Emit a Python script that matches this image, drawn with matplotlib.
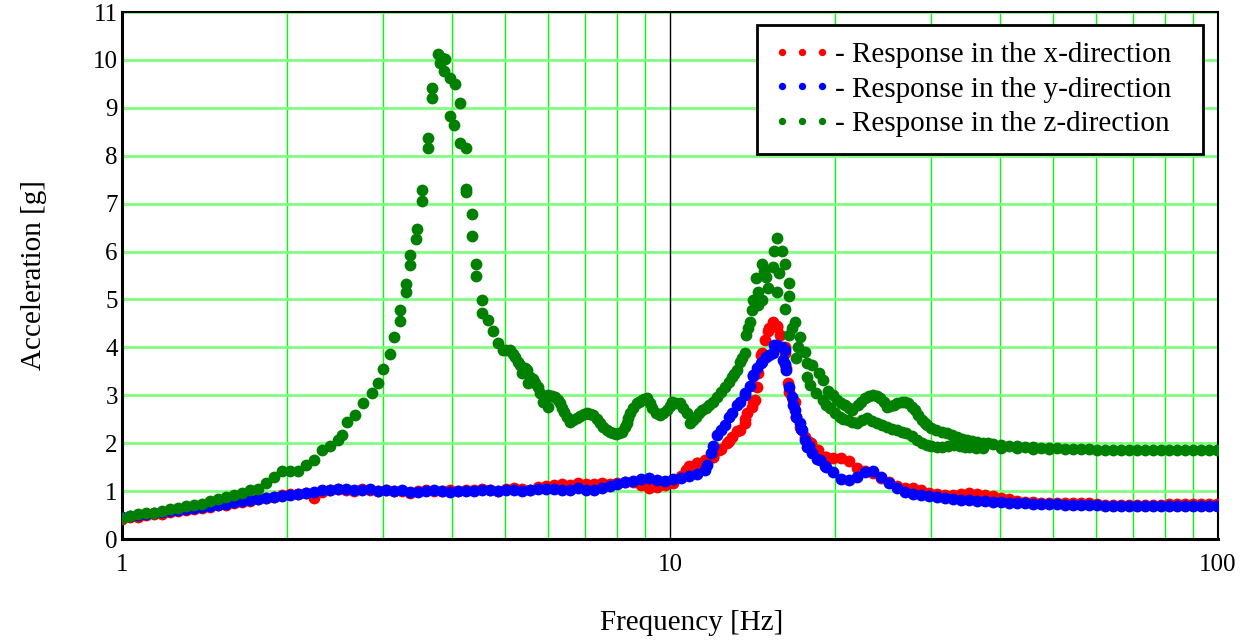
import matplotlib
matplotlib.use("Agg")
import matplotlib.pyplot as plt
from matplotlib.ticker import FixedLocator, NullFormatter

plt.rcParams['font.family'] = ['Liberation Serif', 'DejaVu Serif']

# frequency points of the sweep (Hz), shared by the x and y responses
grid_hz = [1.000, 1.034, 1.070, 1.106, 1.144, 1.183, 1.223, 1.265, 1.308, 1.353,
           1.399, 1.447, 1.497, 1.548, 1.601, 1.655, 1.712, 1.770, 1.831, 1.893,
           1.958, 2.025, 2.094, 2.166, 2.240, 2.316, 2.395, 2.477, 2.562, 2.649,
           2.740, 2.833, 2.930, 3.030, 3.133, 3.240, 3.351, 3.465, 3.584, 3.706,
           3.832, 3.963, 4.099, 4.239, 4.383, 4.533, 4.688, 4.848, 5.013, 5.184,
           5.361, 5.544, 5.734, 5.929, 6.132, 6.341, 6.558, 6.781, 7.013, 7.252,
           7.500, 7.756, 8.021, 8.294, 8.578, 8.870, 9.173, 9.486, 9.810, 10.14,
           10.49, 10.85, 11.22, 11.60, 12.00, 12.41, 12.83, 13.27, 13.72, 14.19,
           14.68, 15.18, 15.70, 16.23, 16.79, 17.36, 17.95, 18.57, 19.20, 19.86,
           20.53, 21.23, 21.96, 22.71, 23.48, 24.29, 25.12, 25.97, 26.86, 27.78,
           28.72, 29.70, 30.72, 31.77, 32.85, 33.97, 35.13, 36.33, 37.57, 38.85,
           40.18, 41.55, 42.97, 44.43, 45.95, 47.52, 49.14, 50.82, 52.55, 54.35,
           56.20, 58.12, 60.10, 62.15, 64.28, 66.47, 68.74, 71.09, 73.51, 76.02,
           78.62, 81.30, 84.08, 86.95, 89.92, 92.99, 96.16, 99.44]

# response in the x-direction [g]
x_acc = [0.42, 0.45, 0.47, 0.50, 0.53, 0.52, 0.56, 0.58, 0.60, 0.62,
         0.64, 0.67, 0.70, 0.72, 0.75, 0.78, 0.80, 0.83, 0.85, 0.88,
         0.91, 0.93, 0.95, 0.97, 0.86, 0.98, 1.02, 1.05, 1.03, 1.01,
         1.04, 1.02, 1.00, 1.02, 1.00, 1.01, 0.97, 1.00, 1.02, 1.00,
         1.01, 1.02, 1.00, 1.03, 1.02, 1.05, 1.03, 1.01, 1.04, 1.06,
         1.04, 1.03, 1.08, 1.10, 1.12, 1.14, 1.13, 1.16, 1.15, 1.14,
         1.16, 1.14, 1.17, 1.20, 1.18, 1.12, 1.07, 1.09, 1.13, 1.17,
         1.32, 1.52, 1.58, 1.64, 1.72, 1.88, 2.05, 2.25, 2.50, 2.85,
         3.85, 4.40, 4.45, 4.00, 2.90, 2.30, 2.02, 1.85, 1.72, 1.70,
         1.69, 1.62, 1.48, 1.42, 1.38, 1.27, 1.18, 1.10, 1.07, 1.06,
         1.02, 0.97, 0.94, 0.92, 0.92, 0.94, 0.96, 0.93, 0.92, 0.90,
         0.86, 0.83, 0.80, 0.78, 0.77, 0.76, 0.76, 0.76, 0.76, 0.76,
         0.76, 0.75, 0.74, 0.72, 0.71, 0.71, 0.71, 0.71, 0.71, 0.71,
         0.71, 0.73, 0.74, 0.74, 0.74, 0.74, 0.74, 0.74]
x_peak_hz = [10.7, 11.2, 12.0, 12.3, 12.7, 13.0, 13.4, 13.7, 13.8, 14.1, 14.3, 14.4, 14.5,
             14.7, 14.9, 15.1, 15.4, 15.7, 15.9, 16.2, 16.3, 16.4, 16.5, 16.9, 17.0, 17.3,
             17.6, 18.1, 18.6, 19.3]
x_peak_acc = [1.44, 1.58, 1.71, 1.85, 2.00, 2.13, 2.27, 2.42, 2.63, 2.75, 2.90, 3.17, 3.46,
              3.88, 4.15, 4.35, 4.52, 4.42, 4.25, 3.88, 3.58, 3.25, 3.06, 2.85, 2.54, 2.33,
              2.13, 2.00, 1.85, 1.71]

# response in the y-direction [g]
y_acc = [0.45, 0.48, 0.50, 0.52, 0.54, 0.56, 0.58, 0.60, 0.62, 0.65,
         0.67, 0.69, 0.72, 0.74, 0.77, 0.79, 0.82, 0.84, 0.86, 0.88,
         0.90, 0.92, 0.94, 0.97, 0.99, 1.02, 1.03, 1.05, 1.04, 1.02,
         1.03, 1.05, 1.01, 1.02, 1.01, 1.02, 0.99, 0.98, 1.01, 1.03,
         1.00, 0.99, 1.00, 1.01, 1.01, 1.03, 1.02, 1.00, 1.02, 1.03,
         1.01, 1.02, 1.04, 1.05, 1.04, 1.02, 1.03, 1.06, 1.02, 1.03,
         1.07, 1.10, 1.14, 1.18, 1.22, 1.25, 1.27, 1.23, 1.21, 1.25,
         1.28, 1.31, 1.36, 1.45, 1.95, 2.28, 2.55, 2.80, 3.05, 3.40,
         3.68, 3.85, 4.05, 3.65, 2.80, 2.30, 1.95, 1.68, 1.52, 1.40,
         1.25, 1.24, 1.30, 1.40, 1.42, 1.30, 1.17, 1.06, 0.99, 0.95,
         0.92, 0.90, 0.88, 0.86, 0.84, 0.82, 0.81, 0.80, 0.79, 0.78,
         0.77, 0.76, 0.75, 0.75, 0.74, 0.74, 0.73, 0.73, 0.72, 0.72,
         0.71, 0.70, 0.70, 0.69, 0.69, 0.69, 0.69, 0.69, 0.69, 0.69,
         0.69, 0.69, 0.69, 0.69, 0.69, 0.69, 0.69, 0.69]
y_peak_hz = [11.7, 11.9, 12.2, 12.6, 13.0, 13.4, 13.7, 14.0, 14.2, 14.4, 14.7, 15.0, 15.4,
             15.5, 16.0, 16.2, 16.1, 16.3, 16.5, 16.7, 16.9, 17.0, 17.3, 17.4, 17.6, 17.8,
             18.2, 18.8, 19.3]
y_peak_acc = [1.55, 1.80, 2.18, 2.38, 2.62, 2.85, 3.00, 3.20, 3.42, 3.56, 3.69, 3.79, 3.88,
              4.04, 4.00, 3.94, 3.73, 3.52, 3.17, 2.96, 2.69, 2.54, 2.42, 2.27, 2.06, 1.92,
              1.79, 1.65, 1.50]

# response in the z-direction [g]
z_hz = [1.000, 1.034, 1.070, 1.106, 1.144, 1.183, 1.223, 1.265, 1.308, 1.353,
        1.399, 1.447, 1.497, 1.548, 1.601, 1.655, 1.712, 1.770, 1.831, 1.893,
        1.958, 2.025, 2.094, 2.166, 2.240, 2.316, 2.395, 2.477,
        2.52, 2.57, 2.66, 2.75, 2.86, 2.93, 3.00, 3.08, 3.14, 3.21, 3.21, 3.30, 3.30,
        3.35, 3.35, 3.44, 3.45, 3.53, 3.53, 3.62, 3.62, 3.68, 3.68, 3.77, 3.80, 3.84,
        3.88, 3.87, 3.97, 4.05, 4.14, 3.97, 4.03, 4.14, 4.24, 4.24, 4.25, 4.35, 4.35,
        4.42, 4.42, 4.54, 4.54, 4.66, 4.75,
        4.85, 4.96, 5.03, 5.10, 5.16, 5.21, 5.27, 5.32, 5.37, 5.43, 5.48, 5.50, 5.56,
        5.62, 5.68, 5.74, 5.78, 5.86, 5.92, 5.99, 6.00, 6.08, 6.17, 6.24, 6.30, 6.36,
        6.41, 6.49, 6.57, 6.66, 6.76, 6.86, 6.96, 7.06, 7.15, 7.24, 7.35, 7.45, 7.56,
        7.67, 7.77, 7.87, 7.97, 8.08, 8.18, 8.27, 8.34, 8.40, 8.44, 8.57, 8.70, 8.79,
        8.88, 8.98, 9.09, 9.19, 9.29, 9.43, 9.58, 9.72, 9.87, 10.0, 10.1, 10.26, 10.42,
        10.57, 10.73, 10.86, 11.0, 11.17, 11.31, 11.46, 11.63, 11.8, 12.0, 12.2, 12.4,
        12.6, 12.8, 12.96, 13.1, 13.25, 13.4, 13.55, 13.7, 13.75, 13.9, 14.0, 14.1,
        14.17, 14.34, 14.45, 14.5, 14.7, 14.7, 14.85, 15.0, 15.1, 15.4, 15.5, 15.7,
        15.65, 15.8, 16.0, 16.2, 16.2, 16.5, 16.5, 16.9, 16.5, 16.7, 17.3, 17.0, 17.1,
        17.6, 17.8, 17.8,
        18.2, 18.7, 19.0, 19.4, 19.8, 20.2, 20.5, 20.85, 21.2, 21.5, 22.0, 22.3, 22.7,
        23.1, 23.5, 23.9, 24.2, 24.6, 24.9, 25.2, 25.6, 26.0, 26.5, 26.9, 27.2, 27.6,
        28.0, 28.4, 28.8, 29.2, 29.5, 30.0, 30.6, 31.3, 32.0, 32.7, 33.4, 34.1, 34.8,
        35.5, 36.3, 37.2, 38.1,
        18.0, 18.5, 19.0, 19.3, 19.6, 20.0, 20.4, 20.7, 21.1, 21.5, 21.9, 22.4, 22.9,
        23.4, 23.9, 24.4, 24.9, 25.4, 26.0, 26.5, 27.0, 27.6, 28.2, 28.8, 29.4, 30.0,
        30.7, 31.4, 32.2, 33.0, 33.8, 34.5, 35.2, 36.2, 37.2,
        38.85, 40.18, 41.55, 42.97, 44.43, 45.95, 47.52, 49.14, 50.82, 52.55, 54.35,
        56.20, 58.12, 60.10, 62.15, 64.28, 66.47, 68.74, 71.09, 73.51, 76.02, 78.62,
        81.30, 84.08, 86.95, 89.92, 92.99, 96.16, 99.44,
        40.18, 42.97, 45.95, 49.14]
z_acc = [0.44, 0.48, 0.52, 0.54, 0.55, 0.58, 0.62, 0.65, 0.68, 0.70,
         0.74, 0.79, 0.84, 0.88, 0.92, 0.97, 1.02, 1.05, 1.17, 1.30,
         1.42, 1.42, 1.42, 1.55, 1.65, 1.85, 1.95, 2.07,
         2.17, 2.45, 2.58, 2.83, 3.04, 3.25, 3.54, 3.87, 4.21, 4.56, 4.77, 5.15, 5.33,
         5.71, 5.92, 6.27, 6.48, 7.06, 7.29, 8.17, 8.38, 9.21, 9.42, 10.12, 9.94, 10.05,
         10.02, 9.77, 9.63, 9.50, 9.10, 8.83, 8.65, 8.27, 8.17, 7.31, 7.25, 6.79, 6.33,
         5.75, 5.48, 4.98, 4.71, 4.58, 4.35,
         4.10, 3.94, 3.95, 3.94, 3.86, 3.79, 3.70, 3.63, 3.46, 3.56, 3.52, 3.25, 3.38,
         3.35, 3.25, 3.17, 3.04, 2.85, 2.95, 3.00, 2.75, 2.98, 2.96, 2.90, 2.83, 2.74,
         2.65, 2.54, 2.44, 2.48, 2.52, 2.56, 2.61, 2.63, 2.61, 2.58, 2.50, 2.42, 2.34,
         2.27, 2.23, 2.21, 2.20, 2.21, 2.23, 2.33, 2.42, 2.52, 2.63, 2.73, 2.83, 2.87,
         2.90, 2.93, 2.94, 2.84, 2.73, 2.64, 2.58, 2.63, 2.69, 2.78, 2.85, 2.84, 2.83,
         2.73, 2.63, 2.42, 2.48, 2.54, 2.62, 2.69, 2.74, 2.79, 2.87, 2.96, 3.07,
         3.17, 3.28, 3.38, 3.45, 3.52, 3.69, 3.78, 3.88, 4.25, 4.40, 4.52, 4.77,
         4.98, 5.44, 4.88, 5.15, 4.98, 5.75, 5.60, 5.46, 5.23, 5.67, 6.02, 6.29,
         5.15, 5.55, 6.02, 5.75, 4.81, 5.35, 5.08, 4.52, 4.25, 4.40, 4.21, 3.77, 4.00,
         3.90, 3.67, 3.38,
         3.63, 3.46, 3.31, 3.10, 3.00, 2.90, 2.84, 2.79, 2.74, 2.69, 2.79, 2.87, 2.94,
         2.98, 3.00, 2.98, 2.94, 2.85, 2.75, 2.77, 2.79, 2.83, 2.85, 2.85, 2.83, 2.76,
         2.69, 2.58, 2.48, 2.42, 2.38, 2.32, 2.27, 2.24, 2.21, 2.17, 2.13, 2.09, 2.06,
         2.04, 2.02, 2.01, 2.00,
         3.21, 3.05, 2.90, 2.80, 2.73, 2.63, 2.54, 2.50, 2.48, 2.45, 2.42, 2.48, 2.52,
         2.47, 2.42, 2.37, 2.33, 2.30, 2.27, 2.24, 2.21, 2.14, 2.06, 2.01, 1.96, 1.94,
         1.92, 1.93, 1.95, 1.96, 1.95, 1.93, 1.92, 1.91, 1.90,
         1.98, 1.96, 1.95, 1.94, 1.93, 1.92, 1.91, 1.90, 1.89, 1.88, 1.88,
         1.87, 1.87, 1.86, 1.86, 1.86, 1.86, 1.85, 1.85, 1.85, 1.85, 1.85,
         1.85, 1.85, 1.85, 1.85, 1.85, 1.85, 1.85,
         1.90, 1.89, 1.88, 1.87]

x_ticks = [1, 10, 100]
y_ticks = list(range(12))

fig = plt.figure(figsize=(12.55, 6.42), dpi=100)
ax = fig.add_axes([0.0972, 0.1604, 0.8733, 0.8209])

ms = 8.5
ax.plot(grid_hz + x_peak_hz, x_acc + x_peak_acc, 'o', ms=ms, color='#ff0000', mec='none',
        label='- Response in the x-direction', zorder=3)
ax.plot(grid_hz + y_peak_hz, y_acc + y_peak_acc, 'o', ms=ms, color='#0000ff', mec='none',
        label='- Response in the y-direction', zorder=4)
ax.plot(z_hz, z_acc, 'o', ms=ms, color='#008000', mec='none',
        label='- Response in the z-direction', zorder=5)

ax.set_xscale('log')
ax.set_xlim(1, 100)
ax.set_ylim(0, 11)
ax.xaxis.set_major_locator(FixedLocator(x_ticks))
ax.set_xticklabels([str(t) for t in x_ticks])
ax.xaxis.set_minor_locator(FixedLocator([2, 3, 4, 5, 6, 7, 8, 9, 20, 30, 40, 50, 60, 70, 80, 90]))
ax.xaxis.set_minor_formatter(NullFormatter())
ax.set_yticks(y_ticks)
ax.tick_params(which='both', length=0, labelsize=18)
ax.tick_params(axis='x', pad=11)
ax.tick_params(axis='y', pad=3)

ax.grid(axis='y', which='major', color='#80ff80', lw=2)
ax.grid(axis='x', which='minor', color='#00ff00', lw=1)
ax.axvline(10, color='black', lw=1, zorder=1)
ax.set_axisbelow(True)

for side in ['left', 'bottom']:
    ax.spines[side].set_linewidth(2.2)
for side in ['top', 'right']:
    ax.spines[side].set_linewidth(1.5)

ax.set_xlabel('Frequency [Hz]', fontsize=21)
ax.set_ylabel('Acceleration [g]', fontsize=21)
ax.xaxis.set_label_coords(0.52, -0.134)
ax.yaxis.set_label_coords(-0.068, 0.5)

leg = ax.legend(loc='upper left', bbox_to_anchor=(0.5794, 0.5, 0.4069, 0.4753),
                mode='expand', borderaxespad=0,
                fontsize=21, numpoints=3, markerscale=0.62, handlelength=1.97,
                handletextpad=0.13, labelspacing=0.28, borderpad=0.57,
                fancybox=False, framealpha=1, edgecolor='black')
leg.get_frame().set_linewidth(2)

plt.savefig('out.png', dpi=100)
